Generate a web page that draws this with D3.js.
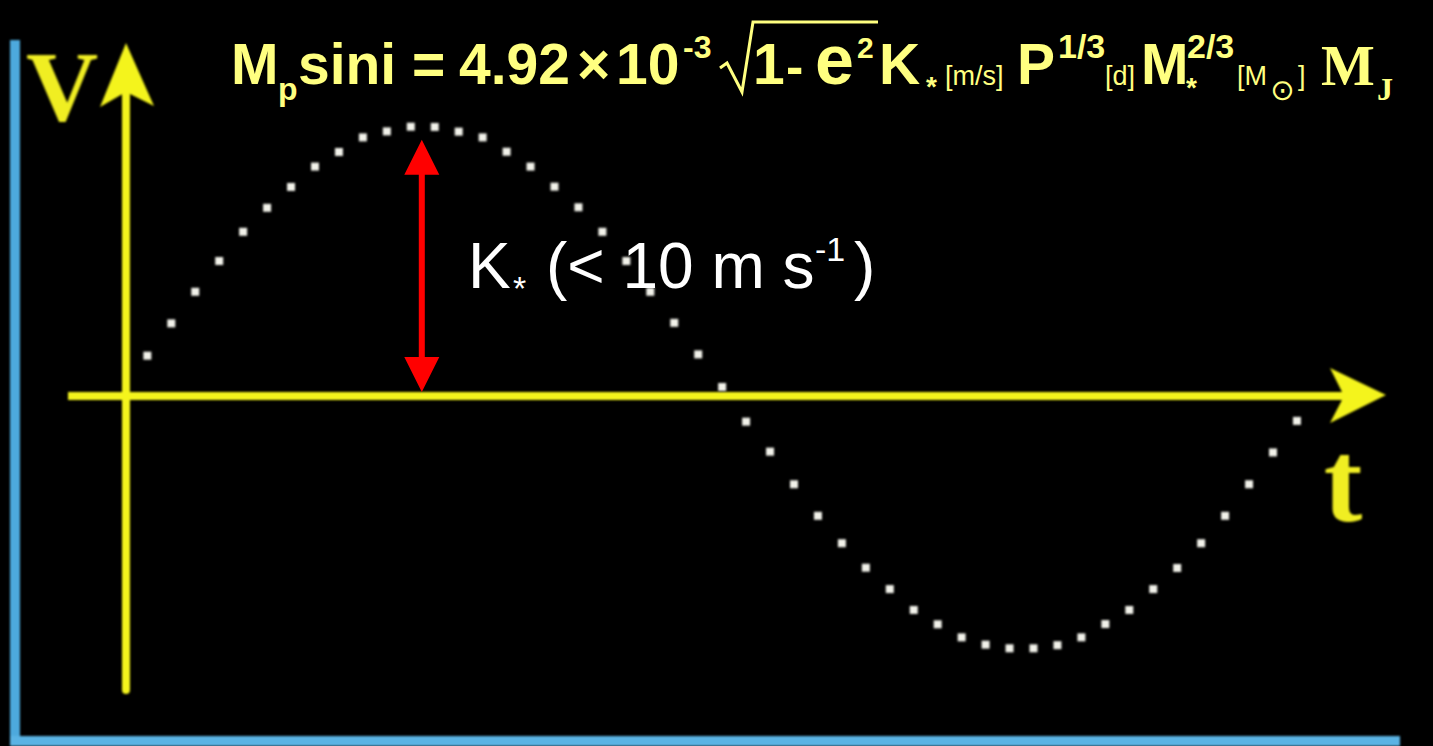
<!DOCTYPE html>
<html>
<head>
<meta charset="utf-8">
<script src="https://cdn.jsdelivr.net/npm/d3@7"></script>
<style>
  html, body { margin: 0; padding: 0; background: #000; overflow: hidden; }
  svg { display: block; }
</style>
</head>
<body>
<svg id="chart" width="1433" height="746"></svg>
<script>
// Radial-velocity samples of the star over one orbit, in units of the semi-amplitude K*
const sampleTimes = [
   1,  2,  3,  4,  5,  6,  7,  8,  9, 10, 11, 12, 13, 14, 15, 16, 17,
  18, 19, 20, 21, 22, 23, 24, 25, 26, 27, 28, 29, 30, 31, 32, 33, 34,
  35, 36, 37, 38, 39, 40, 41, 42, 43, 44, 45, 46, 47, 48, 49
];
const radialVelocity = [
   0.122,  0.246,  0.367,  0.485,  0.597,  0.689,  0.769,  0.847,  0.903,  0.959,
   0.982,  1.000,  0.999,  0.981,  0.959,  0.904,  0.847,  0.770,  0.691,  0.597,
   0.485,  0.367,  0.248,  0.127,  0.002, -0.131, -0.246, -0.371, -0.492, -0.597,
  -0.691, -0.773, -0.853, -0.908, -0.958, -0.986, -1.000, -1.000, -0.988, -0.958,
  -0.907, -0.853, -0.773, -0.692, -0.597, -0.492, -0.371, -0.249, -0.128
];
const semiAmplitude = 1.0;

// Axis labels and annotation text
const velocityAxisLabel = "V";
const timeAxisLabel = "t";
const amplitudeText = ["K", "*", "(< 10 m s", "-1", ")"];

const SANS = "'Liberation Sans', Arial, Helvetica, sans-serif";
const SERIF = "'Liberation Serif', 'Times New Roman', serif";
const FORMULA = "#ffff80";
const AXIS = "#f4f41e";

const svg = d3.select("#chart");

const defs = svg.append("defs");
defs.append("filter").attr("id", "soft")
  .attr("x", "-20%").attr("y", "-20%").attr("width", "140%").attr("height", "140%")
  .append("feGaussianBlur").attr("stdDeviation", 1.0);
defs.append("filter").attr("id", "dotblur")
  .attr("x", "-10%").attr("y", "-10%").attr("width", "120%").attr("height", "120%")
  .append("feGaussianBlur").attr("stdDeviation", 0.9);

svg.append("rect").attr("width", 1433).attr("height", 746).attr("fill", "#000");

// Scales
const x = d3.scaleLinear().domain([0, 50]).range([123.4, 123.4 + 50 * 23.95]);
const y = d3.scaleLinear().domain([-1, 1]).range([648.3, 126.7]);

// Blue frame edges
const frame = svg.append("g").attr("filter", "url(#soft)");
frame.append("rect").attr("x", 10).attr("y", 40).attr("width", 10).attr("height", 706)
  .attr("fill", "#4ea9dd");
frame.append("rect").attr("x", 10).attr("y", 736).attr("width", 1390).attr("height", 10)
  .attr("fill", "#5ab3e4");

// Coordinate axes
const axes = svg.append("g").attr("filter", "url(#soft)");
const axisY0 = 396, axisX0 = 126;
axes.append("line").attr("x1", 68).attr("x2", 1345).attr("y1", axisY0).attr("y2", axisY0)
  .attr("stroke", AXIS).attr("stroke-width", 8);
axes.append("line").attr("x1", axisX0).attr("x2", axisX0).attr("y1", 690).attr("y2", 95)
  .attr("stroke", AXIS).attr("stroke-width", 8).attr("stroke-linecap", "round");
// arrowheads
axes.append("path")
  .attr("d", `M${axisX0},43 L${axisX0 + 28},106 L${axisX0},92 L${axisX0 - 26},107 Z`)
  .attr("fill", AXIS);
axes.append("path")
  .attr("d", `M1386,${axisY0 - 1} L1330,368 L1344,${axisY0} L1330,423 Z`)
  .attr("fill", AXIS);

// Axis labels
axes.append("text").attr("x", 62).attr("y", 120).attr("text-anchor", "middle")
  .attr("font-family", SERIF).attr("font-weight", "bold").attr("font-size", 100)
  .attr("fill", "#f0ee22").text(velocityAxisLabel);
axes.append("text").attr("x", 1343).attr("y", 521).attr("text-anchor", "middle")
  .attr("font-family", SERIF).attr("font-weight", "bold").attr("font-size", 116)
  .attr("fill", "#f0ee22").text(timeAxisLabel);

// Velocity samples
svg.append("g").attr("filter", "url(#dotblur)")
  .selectAll("rect")
  .data(sampleTimes.map((t, i) => ({ t, v: radialVelocity[i] })))
  .join("rect")
  .attr("x", d => x(d.t) - 4)
  .attr("y", d => y(d.v) - 4)
  .attr("width", 8).attr("height", 8)
  .attr("fill", "#f2f2ea");

// Semi-amplitude double arrow
const ax = 421.8, aTop = y(semiAmplitude) + 13, aBot = 392, head = 35, hw = 17.5, sw = 3;
svg.append("path")
  .attr("d", [
    `M${ax},${aTop}`, `L${ax + hw},${aTop + head}`, `L${ax + sw},${aTop + head}`,
    `L${ax + sw},${aBot - head}`, `L${ax + hw},${aBot - head}`, `L${ax},${aBot}`,
    `L${ax - hw},${aBot - head}`, `L${ax - sw},${aBot - head}`, `L${ax - sw},${aTop + head}`,
    `L${ax - hw},${aTop + head}`, "Z"
  ].join(" "))
  .attr("fill", "#ff0000");

// Semi-amplitude annotation
const ann = svg.append("g").attr("font-family", SANS).attr("fill", "#ffffff");
ann.append("text").attr("x", 468).attr("y", 288).attr("font-size", 64).text(amplitudeText[0]);
ann.append("text").attr("x", 513).attr("y", 300).attr("font-size", 34).text(amplitudeText[1]);
ann.append("text").attr("x", 546).attr("y", 288).attr("font-size", 64)
  .attr("xml:space", "preserve").text(amplitudeText[2]);
ann.append("text").attr("x", 815).attr("y", 261).attr("font-size", 34).text(amplitudeText[3]);
ann.append("text").attr("x", 854).attr("y", 288).attr("font-size", 64).text(amplitudeText[4]);

// Minimum-mass relation
const formulaPieces = [
  { s: "M",     x: 231,  y: 84,  size: 57, w: "bold" },
  { s: "p",     x: 278,  y: 100, size: 32, w: "bold" },
  { s: "sini",  x: 298,  y: 84,  size: 57, w: "bold" },
  { s: "=",     x: 412,  y: 84,  size: 57, w: "bold" },
  { s: "4.92",  x: 459,  y: 84,  size: 57, w: "bold" },
  { s: "×",     x: 577,  y: 84,  size: 57, w: "bold" },
  { s: "10",    x: 616,  y: 84,  size: 57, w: "bold" },
  { s: "-3",    x: 683,  y: 58,  size: 32, w: "bold" },
  { s: "1",     x: 753,  y: 84,  size: 57, w: "bold" },
  { s: "-",     x: 786,  y: 84,  size: 52, w: "bold" },
  { s: "e",     x: 815,  y: 84,  size: 70, w: "bold" },
  { s: "2",     x: 857,  y: 58,  size: 30, w: "bold" },
  { s: "K",     x: 879,  y: 84,  size: 57, w: "bold" },
  { s: "*",     x: 926,  y: 96,  size: 28, w: "bold" },
  { s: "[m/s]", x: 945,  y: 85,  size: 27, w: "normal" },
  { s: "P",     x: 1017, y: 84,  size: 57, w: "bold" },
  { s: "1/3",   x: 1058, y: 58,  size: 34, w: "bold" },
  { s: "[d]",   x: 1105, y: 85,  size: 27, w: "normal" },
  { s: "M",     x: 1141, y: 84,  size: 57, w: "bold" },
  { s: "*",     x: 1186, y: 97,  size: 28, w: "bold" },
  { s: "2/3",   x: 1187, y: 58,  size: 34, w: "bold" },
  { s: "[M",    x: 1237, y: 85,  size: 27, w: "normal" },
  { s: "]",     x: 1298, y: 85,  size: 27, w: "normal" },
  { s: "M",     x: 1321, y: 85,  size: 57, w: "bold", serif: true },
  { s: "J",     x: 1377, y: 100, size: 32, w: "bold", serif: true }
];
const formula = svg.append("g").attr("fill", FORMULA);
formula.selectAll("text").data(formulaPieces).join("text")
  .attr("x", d => d.x).attr("y", d => d.y)
  .attr("font-family", d => d.serif ? SERIF : SANS)
  .attr("font-weight", d => d.w)
  .attr("font-size", d => d.size)
  .text(d => d.s);
// solar-mass symbol
formula.append("text").attr("x", 1282.5).attr("y", 90)
  .attr("text-anchor", "middle").attr("dominant-baseline", "central")
  .attr("font-family", "'DejaVu Sans', sans-serif").attr("font-size", 29)
  .text("⊙");
// radical sign
formula.append("path")
  .attr("d", "M720,68 L727,63 L742,92 L753,22 L878,22")
  .attr("fill", "none").attr("stroke", FORMULA).attr("stroke-width", 3)
  .attr("stroke-linejoin", "miter");
</script>
</body>
</html>
